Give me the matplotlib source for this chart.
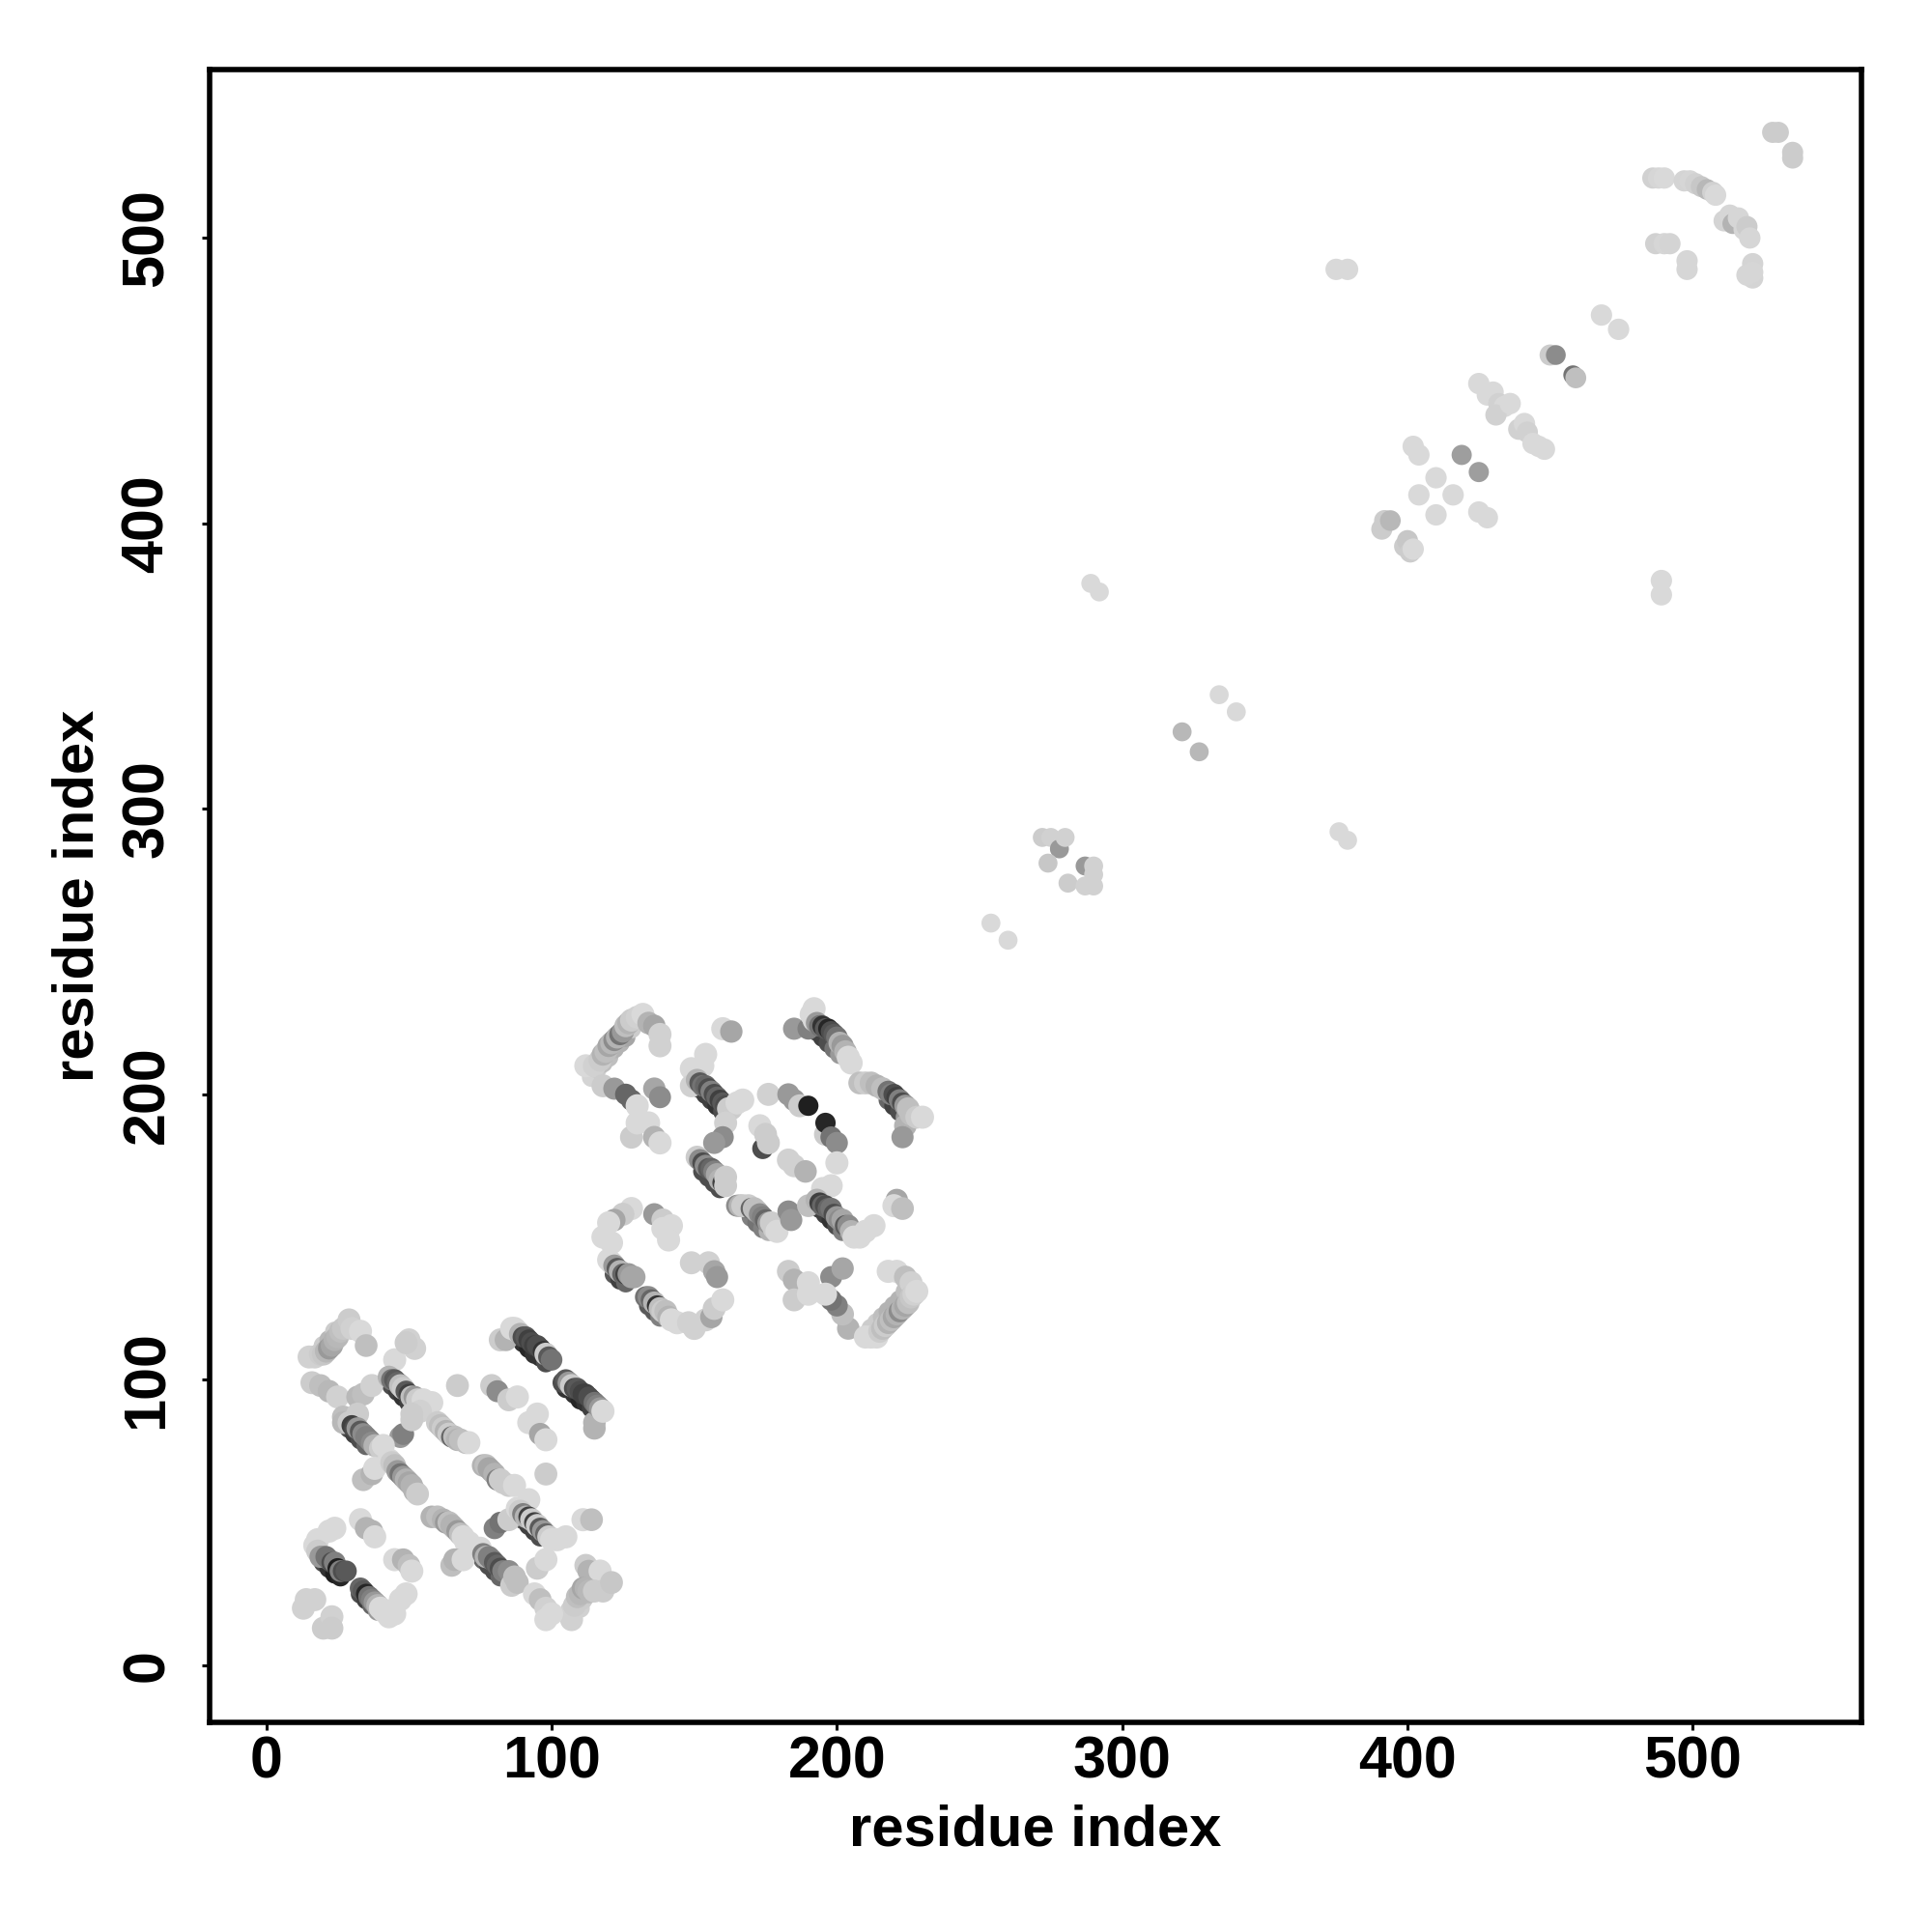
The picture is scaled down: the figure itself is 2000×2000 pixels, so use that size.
import matplotlib
matplotlib.use("Agg")
import matplotlib.pyplot as plt

plt.rcParams['font.family'] = ['Liberation Sans', 'DejaVu Sans']

# contact map: residue i, residue j, grey level (one row per stroke)
dom1_x = [
    15, 17, 19, 20, 21, 22, 23, 24, 25, 26, 27, 29, 30, 33, 35,
    16, 19, 22, 25,
    45, 50, 52, 49,
    32, 34, 37,
    43, 44, 45, 46, 47, 48, 49, 50, 51, 52, 53, 55, 57, 58,
    54, 47, 48, 51, 51,
    27, 27, 32,
    29, 30, 31, 32, 33, 34, 35, 36, 37, 38, 40, 41,
    34, 37, 38,
    43, 44, 45, 46, 47, 48, 49, 50, 51, 52, 53,
    60, 61, 62, 63, 64, 65, 66, 67, 68, 70, 71,
    76, 77, 78, 79, 80, 81, 82, 83, 85, 87,
    58, 60, 62, 63, 64, 65, 66, 67, 68, 69, 70,
    65, 66, 69,
    71, 73, 75, 76, 77, 78, 79, 80, 81, 82, 83, 85, 86, 87, 88,
    80, 82, 85,
    88, 92, 89, 90, 91, 92, 93, 94, 95, 96, 97, 98, 99, 100, 102, 105,
    98, 111, 114,
    112, 113, 117,
    107, 107, 108, 109, 110, 111, 112, 113, 115, 118, 121,
    94, 96, 98, 100, 98,
    95, 98,
    18, 17, 18, 19, 20, 21, 22, 23, 24, 25, 26, 27, 28,
    24, 22,
    33, 35, 37, 38,
    33, 34, 35, 36, 37, 38, 39, 40, 41, 43, 45, 43,
    49, 47,
    45, 48, 50, 51,
    13, 14, 17, 20, 23, 23,
    82, 84, 86, 87, 88, 89, 90, 91, 92, 93, 94, 95, 96, 97, 98, 99, 100,
    115, 115, 104, 105, 106, 107, 108, 109, 110, 111, 112, 113, 114, 115, 116, 117, 118,
    79, 81, 85, 88,
    95, 92, 96, 98,
    67,
]
dom1_y = [
    108, 108, 109, 109, 110, 111, 112, 114, 115, 117, 118, 121, 118, 117, 112,
    99, 98, 96, 94,
    107, 114, 111, 113,
    94, 95, 98,
    101, 100, 100, 99, 98, 97, 96, 95, 94, 94, 93, 93, 92, 92,
    89, 80, 81, 86, 88,
    87, 85, 88,
    85, 84, 83, 83, 82, 81, 80, 79, 78, 77, 76, 77,
    65, 67, 69,
    72, 71, 70, 68, 67, 66, 65, 64, 63, 61, 60,
    85, 84, 83, 82, 81, 80, 80, 79, 79, 78, 78,
    70, 70, 69, 68, 67, 65, 65, 64, 63, 63,
    52, 52, 51, 50, 50, 49, 48, 47, 46, 45, 43,
    35, 37, 37,
    43, 41, 41, 39, 38, 38, 37, 36, 35, 34, 33, 33, 28, 31, 29,
    48, 50, 51,
    55, 58, 54, 53, 52, 52, 51, 50, 49, 48, 47, 46, 45, 44, 44, 45,
    67, 51, 51,
    35, 33, 33,
    16, 19, 21, 24, 25, 27, 27, 26, 26, 26, 29,
    25, 23, 20, 18, 16,
    34, 37,
    44, 42, 40, 38, 38, 38, 37, 36, 36, 34, 33, 33, 33,
    48, 47,
    51, 48, 47, 45,
    27, 26, 25, 24, 23, 22, 21, 20, 19, 19, 18, 17,
    25, 23,
    37, 37, 35, 33,
    20, 23, 23, 13, 17, 13,
    114, 114, 118, 118, 117, 116, 115, 115, 114, 113, 112, 112, 111, 110, 109, 108, 107,
    85, 83, 99, 100, 99, 98, 97, 97, 96, 95, 95, 94, 93, 92, 91, 90, 89,
    98, 96, 93, 94,
    88, 85, 81, 79,
    98,
]
dom1_g = [
    .82, .82, .8, .78, .72, .6, .65, .7, .72, .75, .78, .8, .82, .85, .75,
    .8, .75, .72, .82,
    .85, .82, .82, .8,
    .72, .75, .82,
    .7, .45, .35, .4, .75, .8, .35, .25, .75, .6, .8, .85, .85, .85,
    .82, .6, .5, .8, .8,
    .75, .72, .8,
    .8, .25, .3, .6, .35, .55, .5, .5, .55, .7, .8, .85,
    .75, .7, .85,
    .85, .8, .75, .6, .45, .6, .7, .65, .7, .7, .8,
    .8, .75, .8, .7, .8, .4, .75, .7, .75, .75, .85,
    .7, .75, .65, .65, .7, .5, .8, .8, .8, .85,
    .7, .75, .7, .6, .75, .7, .7, .6, .75, .85, .85,
    .75, .7, .85,
    .85, .85, .85, .5, .7, .5, .5, .35, .4, .3, .5, .55, .8, .75, .75,
    .5, .45, .8,
    .85, .85, .8, .5, .7, .25, .8, .25, .8, .35, .6, .4, .8, .85, .85, .85,
    .8, .85, .75,
    .8, .7, .85,
    .82, .82, .8, .75, .72, .65, .7, .72, .8, .8, .78,
    .85, .75, .82, .85, .85,
    .8, .85,
    .85, .85, .8, .6, .6, .45, .45, .3, .5, .12, .5, .3, .35,
    .85, .85,
    .85, .7, .7, .85,
    .4, .35, .15, .45, .5, .6, .7, .85, .85, .85, .85, .85,
    .85, .85,
    .85, .7, .75, .85,
    .82, .82, .82, .8, .82, .8,
    .8, .7, .85, .85, .85, .7, .3, .35, .25, .3, .25, .3, .3, .2, .8, .35, .45,
    .7, .7, .3, .35, .6, .8, .3, .35, .3, .25, .25, .3, .3, .45, .5, .6, .85,
    .8, .55, .8, .85,
    .85, .85, .65, .85,
    .8,
]

dom2_x = [
    112, 115, 117, 118, 119, 120, 121, 122, 123, 124, 125, 126, 127, 128, 130, 132, 134, 136, 138, 138,
    118, 122, 126, 128, 130,
    136, 138,
    128, 130, 134, 136, 138,
    160, 163,
    154, 153, 149, 149,
    151, 152, 153, 154, 155, 156, 157, 158, 159, 160, 161, 162, 163, 165, 167,
    161, 160, 157,
    151, 152, 153, 154, 155, 156, 157, 158, 159, 160, 161, 161,
    176,
    183, 185, 187, 190,
    196, 196, 198, 200,
    200,
    174, 173, 175, 176,
    183, 185, 189,
    165, 166, 167, 169, 170, 171, 172, 173, 174, 175, 176, 177, 178, 179,
    183, 184, 190,
    198, 195, 193, 194, 195, 196, 197, 198, 199, 200, 201, 202, 203, 204, 205, 206, 208, 210, 213,
    221, 220, 223,
    185, 190, 192, 191, 192, 193, 194, 195, 196, 197, 198, 199, 200, 201, 202, 203, 204, 205,
    224, 223, 208, 210, 212, 214, 216, 218, 219, 220, 221, 222, 223, 224, 225, 226, 228, 230,
    128, 125, 122, 120, 118, 121,
    120, 121, 122, 123, 124, 125, 126, 127, 128, 129,
    133, 134, 135, 136, 137, 138, 139, 140, 141, 142, 144,
    148, 150, 154, 156, 157, 160,
    136, 139, 142, 141, 139, 141,
    149, 155, 157, 158,
    183, 185, 190, 185, 190,
    198, 202,
    204, 202, 200, 198, 196,
    218, 221, 224, 226,
    210, 212, 214, 215, 216, 217, 218, 219, 220, 221, 222, 223, 224, 225, 226, 227, 228,
]
dom2_y = [
    210, 210, 212, 214, 215, 217, 218, 219, 220, 221, 222, 224, 225, 226, 227, 228, 225, 224, 221, 217,
    203, 202, 200, 198, 196,
    202, 199,
    185, 190, 190, 185, 183,
    223, 222,
    214, 210, 209, 203,
    205, 204, 203, 203, 202, 201, 200, 199, 198, 197, 196, 195, 195, 197, 198,
    190, 185, 183,
    178, 177, 176, 175, 174, 174, 173, 172, 170, 169, 171, 168,
    200,
    200, 198, 196, 196,
    186, 190, 185, 183,
    176,
    181, 189, 186, 183,
    177, 175, 173,
    161, 161, 161, 161, 160, 160, 159, 158, 157, 156, 155, 155, 153, 152,
    159, 156, 161,
    168, 167, 163, 162, 161, 161, 160, 160, 158, 157, 156, 156, 154, 154, 152, 150, 150, 152, 154,
    163, 161, 160,
    223, 223, 230, 228, 226, 225, 224, 224, 223, 223, 222, 221, 220, 218, 217, 215, 213, 211,
    189, 185, 204, 204, 204, 203, 202, 201, 200, 200, 199, 198, 197, 196, 195, 193, 192, 192,
    160, 158, 156, 155, 150, 148,
    142, 141, 140, 139, 138, 137, 137, 137, 136, 136,
    129, 129, 128, 127, 126, 125, 124, 124, 122, 121, 120,
    120, 118, 121, 122, 125, 128,
    158, 156, 154, 149, 153, 149,
    141, 141, 138, 136,
    138, 135, 134, 128, 130,
    136, 139,
    118, 123, 126, 128, 130,
    138, 138, 136, 134,
    115, 115, 115, 117, 118, 119, 120, 121, 122, 123, 124, 125, 126, 127, 129, 130, 131,
]
dom2_g = [
    .85, .82, .8, .7, .75, .65, .72, .55, .7, .45, .6, .75, .7, .8, .82, .85, .7, .65, .82, .82,
    .8, .6, .4, .4, .85,
    .65, .55,
    .8, .85, .85, .7, .85,
    .85, .65,
    .85, .85, .85, .82,
    .7, .35, .45, .4, .3, .5, .3, .4, .25, .35, .3, .8, .8, .85, .85,
    .82, .55, .6,
    .8, .55, .3, .55, .35, .4, .5, .65, .7, .25, .8, .8,
    .82,
    .6, .6, .8, .12,
    .8, .15, .45, .55,
    .85,
    .3, .85, .8, .8,
    .82, .82, .7,
    .55, .7, .8, .8, .4, .75, .75, .55, .5, .4, .6, .8, .8, .85,
    .55, .6, .75,
    .85, .85, .7, .25, .4, .3, .4, .45, .3, .6, .55, .65, .35, .55, .7, .85, .85, .85, .85,
    .65, .85, .75,
    .6, .5, .85, .85, .85, .6, .45, .2, .35, .15, .3, .35, .45, .7, .6, .7, .85, .85,
    .7, .6, .75, .8, .75, .7, .75, .45, .5, .3, .25, .5, .3, .6, .75, .75, .8, .85,
    .85, .8, .65, .85, .85, .85,
    .85, .85, .6, .35, .7, .4, .25, .6, .65, .65,
    .45, .55, .4, .7, .2, .75, .8, .75, .7, .85, .85,
    .82, .82, .82, .65, .8, .85,
    .6, .8, .85, .4, .85, .85,
    .82, .82, .65, .6,
    .8, .7, .85, .8, .85,
    .55, .65,
    .7, .75, .5, .45, .85,
    .85, .85, .75, .82,
    .85, .85, .85, .8, .75, .8, .7, .75, .65, .7, .55, .7, .65, .75, .78, .82, .85,
]

# points that only show as dark rims under the strokes
rim_x = [
    105, 108, 110, 112, 114,
    90, 92, 94, 96, 98,
    44, 46, 48, 50,
    29, 31, 33, 35,
    20, 22, 24, 26,
    33, 35, 37, 39,
    76, 78, 80, 82,
    90, 92, 94, 96,
    152, 154, 156, 158, 160,
    153, 155, 157, 159,
    194, 196, 198, 200, 202,
    193, 195, 197, 199, 201,
    218, 220, 222, 224,
    122, 124, 126,
    134, 136, 138,
    170, 172, 174, 176,
    114, 116, 118, 120, 122, 124, 126, 128,
    212, 214, 216, 218, 220, 222, 224, 226,
    110, 111, 113, 115, 117,
    20, 22, 24,
]
rim_y = [
    97, 95, 93, 92, 90,
    113, 111, 109, 108, 106,
    98, 96, 94, 92,
    83, 81, 79, 77,
    36, 34, 32, 31,
    25, 23, 21, 19,
    37, 35, 33, 31,
    51, 49, 47, 45,
    202, 200, 198, 196, 194,
    173, 171, 169, 167,
    160, 158, 156, 154, 152,
    222, 220, 218, 216, 214,
    198, 196, 194, 192,
    137, 135, 134,
    126, 124, 122,
    157, 155, 153, 152,
    206, 209, 211, 213, 216, 218, 220, 223,
    118, 120, 122, 124, 126, 128, 131, 133,
    20, 23, 25, 28, 29,
    112, 114, 117,
]
rim_g = [
    .2, .2, .15, .2, .25,
    .2, .15, .2, .2, .3,
    .3, .25, .2, .25,
    .3, .25, .3, .4,
    .3, .2, .12, .15,
    .3, .25, .4, .6,
    .4, .3, .3, .4,
    .35, .25, .25, .3,
    .3, .25, .25, .2, .3,
    .3, .3, .3, .3,
    .25, .25, .2, .3, .5,
    .3, .25, .3, .45, .6,
    .4, .25, .3, .6,
    .35, .25, .4,
    .35, .35, .5,
    .5, .45, .5, .7,
    .83, .8, .75, .75, .7, .7, .65, .8,
    .8, .8, .75, .7, .7, .7, .75, .8,
    .82, .8, .75, .75, .8,
    .8, .72, .8,
]

link_x = [254, 260, 272, 275, 278, 280, 274, 281, 287, 290, 290, 287, 290,
          289, 292, 321, 327, 334, 340, 376, 379]
link_y = [260, 254, 290, 290, 286, 290, 281, 274, 280, 280, 277, 273, 273,
          379, 376, 327, 320, 340, 334, 292, 289]
link_g = [.85, .85, .8, .82, .6, .82, .78, .8, .6, .82, .82, .82, .82,
          .85, .85, .72, .72, .85, .85, .85, .85]

dom3_x = [
    375, 379, 489, 489,
    391, 392, 394, 399, 400, 401, 402,
    402, 404, 419, 425, 410, 416, 404, 410, 425, 428,
    425, 428, 430, 432, 434, 431, 436,
    439, 441, 442, 444, 446, 448,
    450, 452, 458, 459,
    468, 474,
    486, 488, 490, 497, 499, 501, 503, 505, 507, 508,
    487, 490, 492, 498, 498,
    511, 513, 514, 516, 518, 519, 520, 521, 521, 519, 521,
    528, 530, 535, 535,
]
dom3_y = [
    489, 489, 380, 375,
    398, 401, 401, 392, 394, 390, 391,
    427, 424, 424, 418, 416, 410, 410, 403, 404, 402,
    449, 445, 446, 442, 441, 438, 442,
    433, 435, 432, 428, 427, 426,
    459, 459, 452, 451,
    473, 468,
    521, 521, 521, 520, 520, 519, 518, 517, 516, 515,
    498, 498, 498, 492, 489,
    506, 508, 505, 507, 503, 504, 500, 491, 486, 487, 488,
    537, 537, 530, 528,
]
dom3_g = [
    .85, .85, .85, .85,
    .8, .8, .72, .8, .78, .8, .85,
    .85, .85, .62, .62, .85, .85, .85, .85, .85, .85,
    .85, .85, .85, .82, .85, .82, .85,
    .82, .85, .82, .85, .85, .85,
    .8, .55, .45, .75,
    .85, .85,
    .82, .84, .85, .83, .84, .82, .78, .72, .82, .85,
    .82, .84, .83, .84, .84,
    .83, .84, .7, .84, .84, .8, .84, .83, .83, .84, .84,
    .8, .8, .8, .8,
]

tick_values = [0, 100, 200, 300, 400, 500]

fig = plt.figure(figsize=(10, 10), dpi=200)
ax = fig.add_axes([0.1083, 0.1085, 0.855, 0.8555])

ax.scatter(rim_x, rim_y, s=52, c=[(v, v, v) for v in rim_g], linewidths=0, zorder=1)
# dots in the two dense domains are a bit bigger when light
for x, y, g in [(dom1_x, dom1_y, dom1_g), (dom2_x, dom2_y, dom2_g)]:
    ax.scatter(x, y, s=[54 + 24 * v for v in g], c=[(v, v, v) for v in g], linewidths=0, zorder=2)
ax.scatter(link_x, link_y, s=50, c=[(v, v, v) for v in link_g], linewidths=0, zorder=2)
ax.scatter(dom3_x, dom3_y, s=[38 + 30 * v for v in dom3_g], c=[(v, v, v) for v in dom3_g], linewidths=0, zorder=2)

ax.set_xlim(-20, 559)
ax.set_ylim(-20, 559)
ax.set_xticks(tick_values)
ax.set_yticks(tick_values)
ax.tick_params(length=3, width=1.1, labelsize=22)
ax.tick_params(axis='x', pad=2)
ax.tick_params(axis='y', pad=9.5)
for lab in ax.get_xticklabels() + ax.get_yticklabels():
    lab.set_fontweight('bold')
for lab in ax.get_yticklabels():
    lab.set_rotation(90)
    lab.set_va('center')
for sp in ax.spines.values():
    sp.set_linewidth(2.0)

ax.set_xlabel('residue index', fontsize=21.5, fontweight='bold', labelpad=5)
ax.set_ylabel('residue index', fontsize=21.5, fontweight='bold', labelpad=6)

fig.savefig('out.png', dpi=200)
